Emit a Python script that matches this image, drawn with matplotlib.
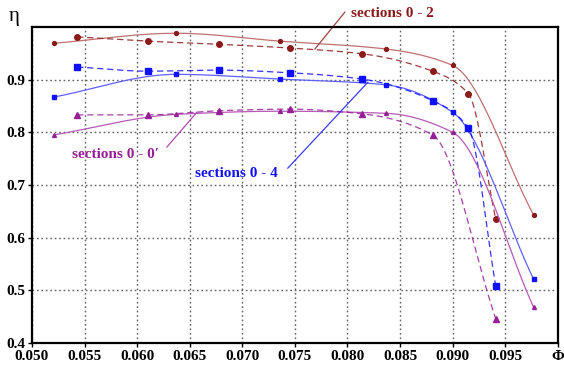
import numpy as np
import matplotlib
matplotlib.use('Agg')
import matplotlib.pyplot as plt

plt.rcParams['font.family'] = ['Liberation Serif', 'DejaVu Serif']
plt.rcParams['font.weight'] = 'bold'

# flow coefficient Phi for the two measurement sets
phiSolid = [0.0521, 0.0637, 0.0736, 0.0837, 0.0900, 0.0977]
phiDashed = [0.0543, 0.0610, 0.0678, 0.0745, 0.0814, 0.0881, 0.0915, 0.0941]

# efficiency eta, sections 0 - 2
eta02Solid = [0.969, 0.988, 0.973, 0.958, 0.927, 0.643]
eta02Dashed = [0.981, 0.973, 0.967, 0.960, 0.949, 0.916, 0.873, 0.635]

# efficiency eta, sections 0 - 4
eta04Solid = [0.867, 0.910, 0.901, 0.890, 0.838, 0.521]
eta04Dashed = [0.924, 0.916, 0.918, 0.913, 0.901, 0.860, 0.808, 0.508]

# efficiency eta, sections 0 - 0'
eta00Solid = [0.795, 0.834, 0.840, 0.836, 0.800, 0.468]
phi00Dashed = [0.0543, 0.0610, 0.0678, 0.0745, 0.0814, 0.0881, 0.0941]
eta00Dashed = [0.833, 0.833, 0.841, 0.844, 0.835, 0.795, 0.446]

xTicks = [0.050, 0.055, 0.060, 0.065, 0.070, 0.075, 0.080, 0.085, 0.090, 0.095]
yTicks = [0.4, 0.5, 0.6, 0.7, 0.8, 0.9]


def smoothCurve(x, y, n=40):
    # monotone cubic (Fritsch-Carlson) curve through the measured points
    x = np.asarray(x, float)
    y = np.asarray(y, float)
    h = np.diff(x)
    d = np.diff(y) / h
    m = np.zeros_like(y)
    m[0] = d[0]
    m[-1] = d[-1]
    for i in range(1, len(x) - 1):
        if d[i - 1] * d[i] > 0:
            w1 = 2 * h[i] + h[i - 1]
            w2 = h[i] + 2 * h[i - 1]
            m[i] = (w1 + w2) / (w1 / d[i - 1] + w2 / d[i])
    xs, ys = [], []
    for i in range(len(x) - 1):
        t = np.linspace(0, 1, n)
        h00 = 2 * t**3 - 3 * t**2 + 1
        h10 = t**3 - 2 * t**2 + t
        h01 = -2 * t**3 + 3 * t**2
        h11 = t**3 - t**2
        xs.extend(x[i] + t * h[i])
        ys.extend(h00 * y[i] + h10 * h[i] * m[i] + h01 * y[i + 1] + h11 * h[i] * m[i + 1])
    return xs, ys


fig = plt.figure(figsize=(5.64, 3.69), dpi=100)
ax = fig.add_axes([0.0567, 0.0705, 0.9323, 0.8565])

series = [
    ('#8b1a1a', '#c07070', 'o', phiSolid, eta02Solid, phiDashed, eta02Dashed),
    ('#1010ff', '#6060ff', 's', phiSolid, eta04Solid, phiDashed, eta04Dashed),
    ('#961e96', '#b65ab6', '^', phiSolid, eta00Solid, phi00Dashed, eta00Dashed),
]

for markColor, lineColor, marker, xs, ys, xd, yd in series:
    cx, cy = smoothCurve(xs, ys)
    ax.plot(cx, cy, color=lineColor, lw=0.9)
    ax.plot(xs, ys, ls='none', marker=marker, ms=2.8, color=markColor)
    cx, cy = smoothCurve(xd, yd)
    ax.plot(cx, cy, color=markColor, lw=0.9, ls=(0, (5, 3)), alpha=0.85)
    ax.plot(xd, yd, ls='none', marker=marker, ms=4, color=markColor)

ax.set_xlim(0.050, 0.100)
ax.set_ylim(0.4, 1.0)
ax.set_xticks(xTicks + [0.100])
ax.set_xticklabels(['%.3f' % v for v in xTicks] + ['Φ'])
ax.set_yticks(yTicks)
ax.set_yticklabels(['%.1f' % v for v in yTicks])
ax.tick_params(length=3, width=1, labelsize=11, pad=2)
ax.grid(True, color='#606060', ls=(0, (1.2, 2)), lw=1)
for s in ax.spines.values():
    s.set_linewidth(1.6)

fig.text(0.015, 0.955, 'η', fontsize=15, fontweight='normal', va='center')

# curve labels with leader lines
ax.plot([0.0769, 0.07975], [0.958, 1.028], color='#a04040', lw=0.9, clip_on=False)
ax.text(0.0803, 1.026, 'sections 0 - 2', color='#8b1a1a', fontsize=11,
        va='center', ha='left', clip_on=False)
ax.plot([0.06283, 0.06568], [0.772, 0.838], color='#b04ab0', lw=0.9)
ax.text(0.0538, 0.7586, "sections 0 - 0′", color='#961e96', fontsize=11,
        va='center', ha='left')
ax.plot([0.07433, 0.08194], [0.732, 0.895], color='#3a3aff', lw=0.9)
ax.text(0.0655, 0.7226, 'sections 0 - 4', color='#1010ff', fontsize=11,
        va='center', ha='left')

fig.savefig('out.png', dpi=100)
